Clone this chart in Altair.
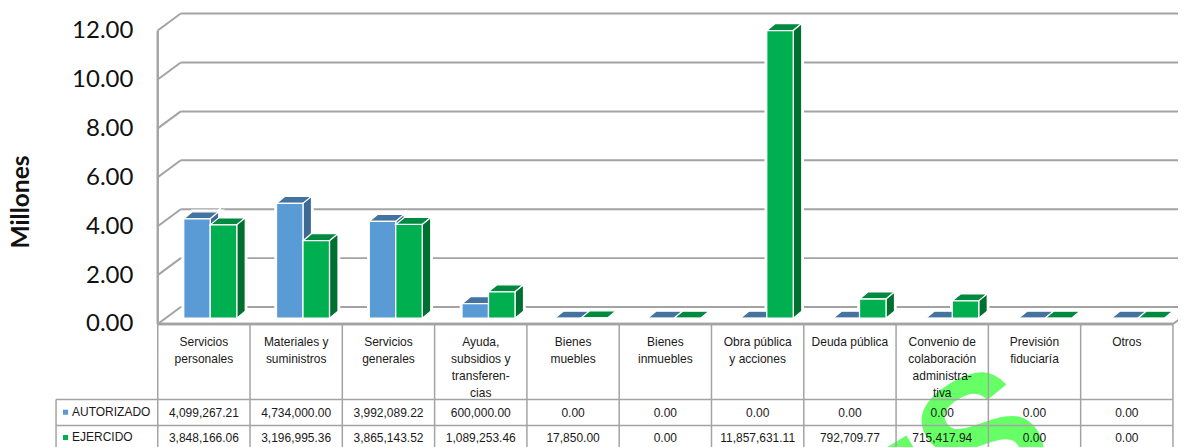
import altair as alt
import pandas as pd

# ---- chart values -------------------------------------------------------
categories = [
    ["Servicios", "personales"],
    ["Materiales y", "suministros"],
    ["Servicios", "generales"],
    ["Ayuda,", "subsidios y", "transferen-", "cias"],
    ["Bienes", "muebles"],
    ["Bienes", "inmuebles"],
    ["Obra pública", "y acciones"],
    ["Deuda pública"],
    ["Convenio de", "colaboración", "administra-", "tiva"],
    ["Previsión", "fiduciaría"],
    ["Otros"],
]
autorizado = [4099267.21, 4734000.00, 3992089.22, 600000.00, 0.00, 0.00, 0.00, 0.00, 0.00, 0.00, 0.00]
ejercido = [3848166.06, 3196995.36, 3865143.52, 1089253.46, 17850.00, 0.00, 11857631.11, 792709.77, 715417.94, 0.00, 0.00]
series_names = ["AUTORIZADO", "EJERCIDO"]
y_ticks = [0, 2, 4, 6, 8, 10, 12]

# ---- layout -------------------------------------------------------------
# the page (8px margins around a 1178px svg) is photographed at 1186/1194
S = 1194 / 1186
CELL, UNIT = 92.3 * S, 24.458 * S   # px per category / px per million
X0, Y0 = 157.7 * S, 322.5 * S       # page position of the chart origin
WIDTH, HEIGHT = CELL * 11, UNIT * 12
PAD_L, PAD_T = X0 - 8, Y0 - UNIT * 12 - 8
PAD_R, PAD_B = 1178 - PAD_L - WIDTH, 446 - PAD_T - HEIGHT

def ux(px):
    return (px * S - X0) / CELL

def uy(px):
    return (Y0 - px * S) / UNIT

WALL_DX, WALL_DY = 23 / 92.3, 17 / 24.458     # depth of the chart box
BAR_DX, BAR_DY = 8.5 / 92.3, 7 / 24.458       # depth of a bar
BAR_W = 26.5 / 92.3
BAR_L = [26.0 / 92.3, 52.5 / 92.3]            # bar start inside a cell
BAR_STEP = 1.005                              # bars sit on a plane a little wider than the table
BAR_BASE = uy(316.7)
BAR_K = 0.992

GRID = "#a3a3a3"
COLORS = [
    {"front": "#5b9bd5", "top": "#44739f", "side": "#3d6a94"},
    {"front": "#00b050", "top": "#00893f", "side": "#007030"},
]

X_SC = alt.Scale(domain=[0, 11], nice=False, zero=False)
Y_SC = alt.Scale(domain=[0, 12], nice=False, zero=False)
Y_AXIS = alt.Axis(
    values=y_ticks, format=".2f", title="Millones",
    grid=False, domain=False, ticks=False,
    labelFont="Lato", labelFontSize=24 * S, labelColor="#111111", labelPadding=25,
    titleFont="Lato", titleFontWeight="bold", titleFontSize=24.5 * S, titleColor="#111111",
    titleX=(21 - 157.7) * S, titleY=171 * S, titleAngle=270, titleAlign="center", titleBaseline="middle",
)

def X(f="x"):
    return alt.X(f"{f}:Q", scale=X_SC, axis=None)

def Y(f="y"):
    return alt.Y(f"{f}:Q", scale=Y_SC, axis=Y_AXIS)

# ---- box lines ----------------------------------------------------------
segs = []
for t in y_ticks:
    segs.append(dict(x=0, y=t, x2=WALL_DX, y2=t + WALL_DY, w=2.0))
    segs.append(dict(x=WALL_DX, y=t + WALL_DY, x2=11 + WALL_DX, y2=t + WALL_DY, w=2.0))
segs.append(dict(x=0, y=0, x2=0, y2=12, w=2.4))
segs.append(dict(x=0, y=0, x2=11, y2=0, w=2.4))
segs.append(dict(x=11, y=0, x2=11 + WALL_DX, y2=WALL_DY, w=2.0))
box = pd.DataFrame(segs)

# ---- table lines --------------------------------------------------------
ROW1, ROW2, TBL_END, KEY_L = uy(398), uy(424), uy(460), ux(56)
tbl = [dict(x=i, y=0, x2=i, y2=TBL_END, w=1.5) for i in range(12)]
tbl.append(dict(x=KEY_L, y=ROW1, x2=KEY_L, y2=TBL_END, w=1.5))
tbl.append(dict(x=KEY_L, y=ROW1, x2=11, y2=ROW1, w=1.6))
tbl.append(dict(x=KEY_L, y=ROW2, x2=11, y2=ROW2, w=1.6))
table_lines = pd.DataFrame(tbl)

# ---- bar faces ----------------------------------------------------------
fronts, faces = [[], []], [[], []]
for s, vals in enumerate([autorizado, ejercido]):
    for i, raw in enumerate(vals):
        v = BAR_BASE + BAR_K * raw / 1e6
        l = i * BAR_STEP + BAR_L[s]
        r = l + BAR_W
        fronts[s].append(dict(x=l, x2=r, y=BAR_BASE, y2=v))
        c = COLORS[s]
        f = f"{s}-{i}-top"
        t = v + BAR_DY
        for x_, a, b in [(l, v, v), (l + BAR_DX, t, v), (r, t, v), (r + BAR_DX, t, t)]:
            faces[s].append(dict(face=f, x=x_, y=a, y2=b, fill=c["top"]))
        if raw > 100000:
            f = f"{s}-{i}-side"
            faces[s].append(dict(face=f, x=r, y=v, y2=BAR_BASE, fill=c["side"]))
            faces[s].append(dict(face=f, x=r + BAR_DX, y=t, y2=BAR_BASE + BAR_DY, fill=c["side"]))

def area_layer(rows, stroke_w, halo=False):
    e = dict(x=X(), y=Y(), y2=alt.Y2("y2:Q"), detail="face:N")
    if not halo:
        e["color"] = alt.Color("fill:N", scale=None)
    kw = dict(color="white") if halo else {}
    return alt.Chart(pd.DataFrame(rows)).mark_area(
        orient="vertical", stroke="white", strokeWidth=stroke_w, **kw
    ).encode(**e)

def front_layer(rows, fill, stroke_w, stroke="white"):
    return alt.Chart(pd.DataFrame(rows)).mark_bar(
        color=fill, stroke=stroke, strokeWidth=stroke_w
    ).encode(x=X(), x2=alt.X2("x2:Q"), y=Y(), y2=alt.Y2("y2:Q"))

def seg_layer(df, color):
    return alt.Chart(df).mark_rule(color=color).encode(
        x=X(), y=Y(), x2=alt.X2("x2:Q"), y2=alt.Y2("y2:Q"),
        strokeWidth=alt.StrokeWidth("w:Q", scale=None),
    )

# ---- text ---------------------------------------------------------------
TFONT = "Liberation Sans"
cat_rows = []
for i, lines in enumerate(categories):
    for j, line in enumerate(lines):
        cat_rows.append(dict(x=i + 0.5, y=uy(340 + 17 * j), t=line))
val_rows = []
for s, vals in enumerate([autorizado, ejercido]):
    yy = uy(411 if s == 0 else 436.7)
    for i, v in enumerate(vals):
        val_rows.append(dict(x=i + 0.5, y=yy, t=f"{v:,.2f}"))
key_rows = [
    dict(x=ux(72), y=uy(410), t=series_names[0]),
    dict(x=ux(72), y=uy(435.5), t=series_names[1]),
]
sq_rows = [
    dict(x=ux(65.5), y=uy(410.7), c=COLORS[0]["front"]),
    dict(x=ux(65.5), y=uy(436), c=COLORS[1]["front"]),
]

def text_layer(rows, align="center"):
    return alt.Chart(pd.DataFrame(rows)).mark_text(
        font=TFONT, fontSize=12 * S, align=align, baseline="middle", color="#1a1a1a"
    ).encode(x=X(), y=Y(), text="t:N")

wm_rows = [dict(x=ux(930), y=uy(498), t="I"), dict(x=ux(985), y=uy(441), t="S")]
watermark = alt.Chart(pd.DataFrame(wm_rows)).mark_text(
    font="Liberation Sans", fontWeight="bold", fontSize=175, angle=329,
    align="center", baseline="middle", color="#66ff66",
).encode(x=X(), y=Y(), text="t:N")

squares = alt.Chart(pd.DataFrame(sq_rows)).mark_square(size=26, opacity=1).encode(
    x=X(), y=Y(), color=alt.Color("c:N", scale=None)
)

chart = alt.layer(
    watermark,
    seg_layer(box, GRID),
    area_layer(faces[0], 4.5, halo=True),
    front_layer(fronts[0], "white", 4.5),
    area_layer(faces[1], 4.5, halo=True),
    front_layer(fronts[1], "white", 4.5),
    area_layer(faces[0], 1.2),
    front_layer(fronts[0], COLORS[0]["front"], 1.3),
    area_layer(faces[1], 1.2),
    front_layer(fronts[1], COLORS[1]["front"], 1.3),
    seg_layer(box[(box.y == 0) & (box.y2 == 0)], GRID),
    seg_layer(table_lines, GRID),
    text_layer(cat_rows),
    text_layer(val_rows),
    text_layer(key_rows, align="left"),
    squares,
).properties(
    width=WIDTH,
    height=HEIGHT,
    autosize=alt.AutoSizeParams(type="none"),
    padding={"left": PAD_L, "top": PAD_T, "right": PAD_R, "bottom": PAD_B},
    background="white",
).configure_view(strokeWidth=0)

chart.save("out.html", embed_options={"renderer": "svg", "actions": False})
